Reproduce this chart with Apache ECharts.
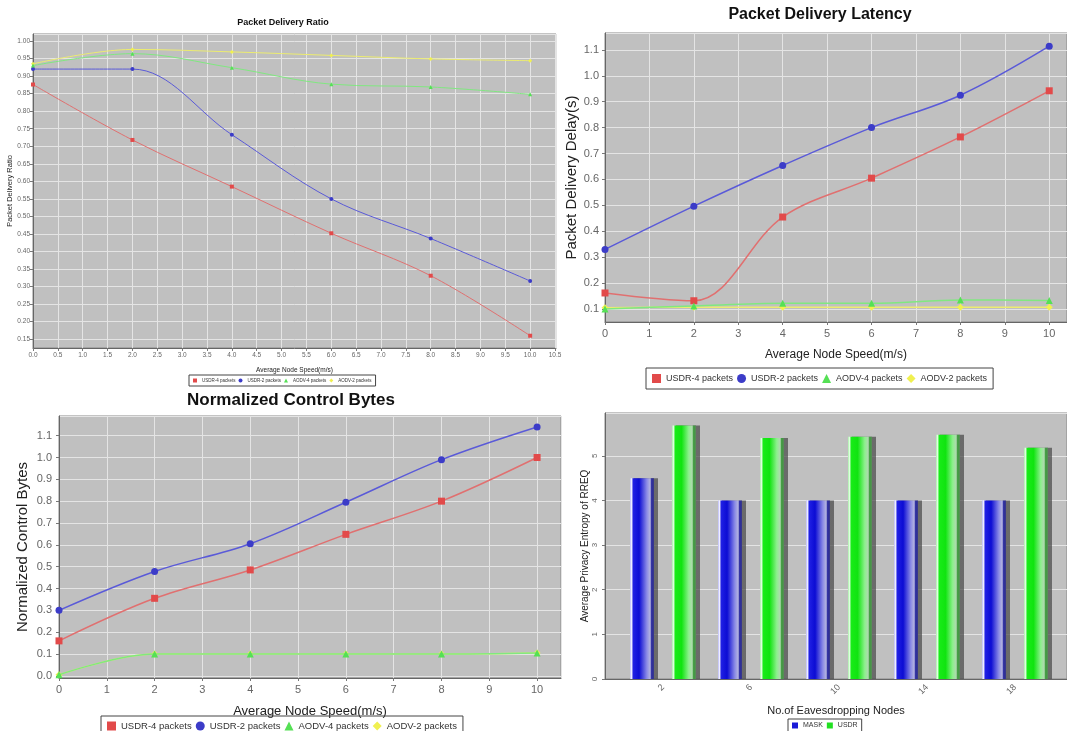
<!DOCTYPE html>
<html>
<head>
<meta charset="utf-8">
<script src="https://cdn.jsdelivr.net/npm/echarts@6/dist/echarts.min.js"></script>
<style>
html,body{margin:0;padding:0;background:#ffffff;}
#c{width:1067px;height:731px;}
</style>
</head>
<body>
<div id="c"></div>
<script>
// ---------- data ----------
const speeds = [0, 2, 4, 6, 8, 10];
const seriesNames = ['USDR-4 packets', 'USDR-2 packets', 'AODV-4 packets', 'AODV-2 packets'];

// Packet Delivery Ratio
const pdrUsdr4 = [0.876, 0.718, 0.585, 0.452, 0.331, 0.160];
const pdrUsdr2 = [0.920, 0.920, 0.733, 0.550, 0.437, 0.316];
const pdrAodv4 = [0.930, 0.964, 0.924, 0.877, 0.869, 0.848];
const pdrAodv2 = [0.935, 0.976, 0.969, 0.959, 0.949, 0.944];

// Packet Delivery Latency
const latUsdr4 = [0.162, 0.132, 0.455, 0.605, 0.764, 0.942];
const latUsdr2 = [0.330, 0.497, 0.654, 0.800, 0.925, 1.114];
const latAodv4 = [0.100, 0.112, 0.122, 0.122, 0.135, 0.133];
const latAodv2 = [0.105, 0.107, 0.107, 0.107, 0.107, 0.107];

// Normalized Control Bytes
const ncbUsdr4 = [0.160, 0.355, 0.485, 0.648, 0.800, 1.000];
const ncbUsdr2 = [0.300, 0.478, 0.605, 0.795, 0.990, 1.140];
const ncbAodv4 = [0.005, 0.100, 0.100, 0.100, 0.100, 0.105];
const ncbAodv2 = [0.005, 0.100, 0.100, 0.100, 0.100, 0.105];

// Privacy entropy bars
const eavesNodes = ['2', '6', '10', '14', '18'];
const barNames = ['MASK', 'USDR'];
const entropyMask = [4.5, 4.0, 4.0, 4.0, 4.0];
const entropyUsdr = [5.68, 5.40, 5.43, 5.47, 5.18];

// ---------- styling ----------
const FONT = '"Liberation Sans", Arial, sans-serif';
const PLOT_BG = '#c0c0c0';
const RED = '#e24a4a', RED_L = '#e07070';
const BLUE = '#3c3cc8', BLUE_L = '#5a5ad8';
const GREEN = '#55e055', GREEN_L = '#80e880';
const YEL = '#f0f050', YEL_L = '#ecec70';
const colorsDot = [RED, BLUE, GREEN, YEL];
const colorsLine = [RED_L, BLUE_L, GREEN_L, YEL_L];
const symbols = ['rect', 'circle', 'triangle', 'diamond'];

const toXY = ys => speeds.map((x, i) => [x, ys[i]]);

function lineSeries(gi, valuesList, size, width) {
  return valuesList.map((ys, k) => ({
    type: 'line', name: seriesNames[k], xAxisIndex: gi, yAxisIndex: gi,
    data: toXY(ys), smooth: 0.35, symbol: symbols[k], symbolSize: size,
    itemStyle: { color: colorsDot[k] },
    lineStyle: { color: colorsLine[k], width: width },
    z: 3 + (k === 3 ? -1 : k), silent: true, animation: false
  }));
}

function valAxis(o) {
  return {
    type: 'value', gridIndex: o.gi, min: o.min, max: o.max,
    minInterval: o.step, maxInterval: o.step, splitNumber: 30,
    name: o.name || '', nameLocation: 'middle', nameGap: o.nameGap || 0,
    nameTextStyle: { fontFamily: FONT, fontSize: o.nameFs || 10, color: '#222' },
    axisLine: { show: o.showLine !== false, onZero: false, lineStyle: { color: '#666', width: 1 } },
    axisTick: { show: o.showTick !== false, length: 3, lineStyle: { color: '#777' } },
    axisLabel: {
      show: o.showLabel !== false, fontFamily: FONT, fontSize: o.fs || 10, color: '#666',
      margin: o.margin || 4, rotate: o.rotate || 0,
      showMinLabel: o.showMin, showMaxLabel: o.showMax,
      formatter: v => (o.dec != null ? v.toFixed(o.dec) : String(v))
    },
    splitLine: { show: o.split !== false, lineStyle: { color: '#e4e4e4', width: 1 } }
  };
}

const gridBase = { show: true, backgroundColor: PLOT_BG, borderColor: '#888', borderWidth: 1, containLabel: false };

const option = {
  backgroundColor: '#ffffff',
  animation: false,
  title: [
    { text: 'Packet Delivery Ratio', left: 283, top: 18, textAlign: 'center', padding: 0,
      textStyle: { fontFamily: FONT, fontSize: 9, fontWeight: 'bold', color: '#111' } },
    { text: 'Packet Delivery Latency', left: 820, top: 7, textAlign: 'center', padding: 0,
      textStyle: { fontFamily: FONT, fontSize: 16, fontWeight: 'bold', color: '#111' } },
    { text: 'Normalized Control Bytes', left: 291, top: 392, textAlign: 'center', padding: 0,
      textStyle: { fontFamily: FONT, fontSize: 17, fontWeight: 'bold', color: '#111' } }
  ],
  legend: [
    { left: 189, top: 375, orient: 'horizontal', padding: [3, 4], itemGap: 3, itemWidth: 4, itemHeight: 4,
      borderColor: '#444', borderWidth: 1, selectedMode: false,
      textStyle: { fontFamily: FONT, fontSize: 4.5, color: '#333' },
      data: seriesNames.map((n, k) => ({ name: n, icon: symbols[k] })) },
    { left: 646, top: 368, orient: 'horizontal', padding: [6, 6], itemGap: 4, itemWidth: 9, itemHeight: 9,
      borderColor: '#444', borderWidth: 1, selectedMode: false,
      textStyle: { fontFamily: FONT, fontSize: 9, color: '#333' },
      data: seriesNames.map((n, k) => ({ name: n, icon: symbols[k] })) },
    { left: 101, top: 716, orient: 'horizontal', padding: [5, 6], itemGap: 4, itemWidth: 9, itemHeight: 9,
      borderColor: '#444', borderWidth: 1, selectedMode: false,
      textStyle: { fontFamily: FONT, fontSize: 9.5, color: '#333' },
      data: seriesNames.map((n, k) => ({ name: n, icon: symbols[k] })) },
    { left: 788, top: 719, orient: 'horizontal', padding: [3, 4], itemGap: 4, itemWidth: 6, itemHeight: 6,
      borderColor: '#444', borderWidth: 1, selectedMode: false,
      textStyle: { fontFamily: FONT, fontSize: 7, color: '#333' },
      data: [{ name: 'MASK', icon: 'rect', itemStyle: { color: '#1a1ad8' } }, { name: 'USDR', icon: 'rect', itemStyle: { color: '#22e022' } }] }
  ],
  grid: [
    Object.assign({ left: 33, top: 34, width: 523, height: 314 }, gridBase),
    Object.assign({ left: 605, top: 33, width: 462, height: 289 }, gridBase),
    Object.assign({ left: 59, top: 416, width: 502, height: 262 }, gridBase),
    Object.assign({ left: 605, top: 413, width: 462, height: 266 }, gridBase),
    { left: 619, top: 413, width: 440, height: 266, show: false, containLabel: false }
  ],
  xAxis: [
    valAxis({ gi: 0, min: 0, max: 10.52, step: 0.5, dec: 1, fs: 6.5, margin: 4, showMin: true, showMax: false,
      name: 'Average Node Speed(m/s)', nameFs: 6.5, nameGap: 19 }),
    valAxis({ gi: 1, min: 0, max: 10.4, step: 1, dec: 0, fs: 11, margin: 6, showMin: true, showMax: false,
      name: 'Average Node Speed(m/s)', nameFs: 12, nameGap: 27 }),
    valAxis({ gi: 2, min: 0, max: 10.5, step: 1, dec: 0, fs: 11, margin: 6, showMin: true, showMax: false,
      name: 'Average Node Speed(m/s)', nameFs: 13, nameGap: 27 }),
    valAxis({ gi: 3, min: 0, max: 1, step: 1, showLabel: false, showTick: false, split: false,
      name: 'No.of Eavesdropping Nodes', nameFs: 11, nameGap: 26 }),
    {
      type: 'category', gridIndex: 4, data: eavesNodes, boundaryGap: true,
      axisLine: { show: false }, axisTick: { show: false },
      axisLabel: { fontFamily: FONT, fontSize: 9, color: '#666', rotate: 45, margin: 7 },
      splitLine: { show: false }
    }
  ],
  yAxis: [
    valAxis({ gi: 0, min: 0.125, max: 1.02, step: 0.05, dec: 2, fs: 6.5, margin: 3, showMin: false, showMax: false,
      name: 'Packet Delivery Ratio', nameFs: 7.5, nameGap: 15 }),
    valAxis({ gi: 1, min: 0.05, max: 1.165, step: 0.1, dec: 1, fs: 11, margin: 6, showMin: false, showMax: false,
      name: 'Packet Delivery Delay(s)', nameFs: 15, nameGap: 23 }),
    valAxis({ gi: 2, min: -0.01, max: 1.19, step: 0.1, dec: 1, fs: 11, margin: 7, showMin: false, showMax: false,
      name: 'Normalized Control Bytes', nameFs: 15, nameGap: 29 }),
    valAxis({ gi: 3, min: 0, max: 5.96, step: 1, dec: 0, fs: 8, margin: 6, rotate: 90, showMin: true, showMax: false,
      name: 'Average Privacy Entropy of RREQ', nameFs: 10, nameGap: 15 }),
    { type: 'value', gridIndex: 4, min: 0, max: 5.96, show: false, splitLine: { show: false } }
  ],
  series: [].concat(
    lineSeries(0, [pdrUsdr4, pdrUsdr2, pdrAodv4, pdrAodv2], 4, 1),
    lineSeries(1, [latUsdr4, latUsdr2, latAodv4, latAodv2], 7, 1.5),
    lineSeries(2, [ncbUsdr4, ncbUsdr2, ncbAodv4, ncbAodv2], 7, 1.5),
    [
      {
        type: 'bar', name: 'MASK', xAxisIndex: 4, yAxisIndex: 4, data: entropyMask,
        barWidth: 24, barGap: '75%', silent: true,
        itemStyle: {
          color: new echarts.graphic.LinearGradient(0, 0, 1, 0, [
            { offset: 0, color: '#b8b8f8' }, { offset: 0.07, color: '#f4f4ff' },
            { offset: 0.13, color: '#2020e4' }, { offset: 0.38, color: '#0c0cd4' },
            { offset: 0.7, color: '#8a8ae6' }, { offset: 0.84, color: '#b4b4e0' },
            { offset: 0.9, color: '#2a2aa0' }, { offset: 1, color: '#3a3a88' }
          ]),
          shadowColor: 'rgba(70,70,70,0.7)', shadowOffsetX: 4, shadowOffsetY: 0, shadowBlur: 0
        }
      },
      {
        type: 'bar', name: 'USDR', xAxisIndex: 4, yAxisIndex: 4, data: entropyUsdr,
        barWidth: 24, barGap: '75%', silent: true,
        itemStyle: {
          color: new echarts.graphic.LinearGradient(0, 0, 1, 0, [
            { offset: 0, color: '#a8f0a8' }, { offset: 0.07, color: '#e6ffe6' },
            { offset: 0.13, color: '#18ec18' }, { offset: 0.4, color: '#10e410' },
            { offset: 0.7, color: '#8ef08e' }, { offset: 0.84, color: '#b0d8b0' },
            { offset: 0.9, color: '#3c9c3c' }, { offset: 1, color: '#5a8a5a' }
          ]),
          shadowColor: 'rgba(70,70,70,0.7)', shadowOffsetX: 4, shadowOffsetY: 0, shadowBlur: 0
        }
      }
    ]
  )
};

const chart = echarts.init(document.getElementById('c'), null, { renderer: 'canvas', width: 1067, height: 731 });
chart.setOption(option);
</script>
</body>
</html>
